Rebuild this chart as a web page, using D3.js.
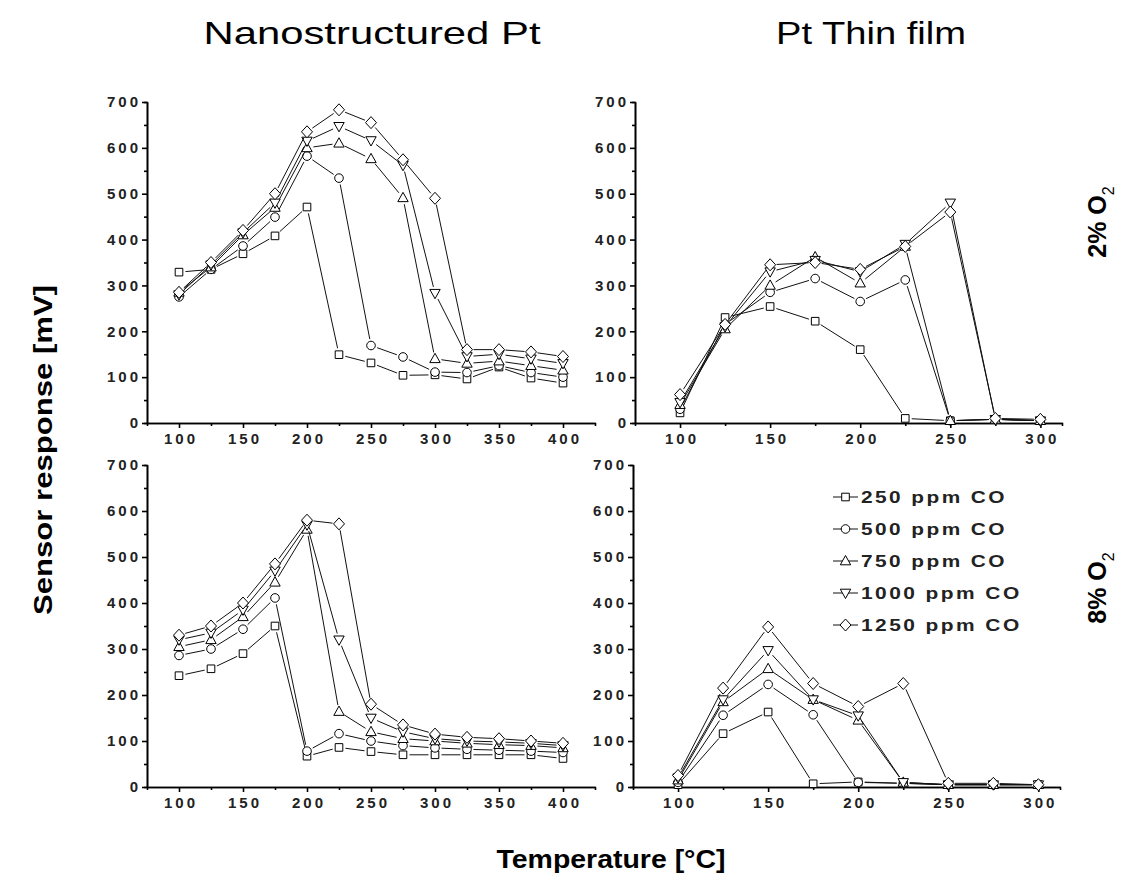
<!DOCTYPE html>
<html>
  <head>
    <script src="https://d3js.org/d3.v7.min.js"></script>
    <style>
      body {margin: 0; background: #fff;}
      svg {font-family: "Liberation Sans", Arial, sans-serif;}
      .axis path, .axis line {stroke: #000; stroke-width: 1.6;}
      .axis text {font-size: 15px; font-weight: bold; letter-spacing: 3px; fill: #222;}
      .series line {stroke: #111; stroke-width: 1;}
      .series path {fill: #fff; stroke: #000; stroke-width: 1;}
    </style>
  </head>
  <body>
    <svg id="chart" width="1128" height="889"></svg>
  </body>
  <script>
      let width = 1128, height = 889;

      // temperatures (°C)
      let tempsNano = [100, 125, 150, 175, 200, 225, 250, 275, 300, 325, 350, 375, 400];
      let tempsFilm = [100, 125, 150, 175, 200, 225, 250, 275, 300];
      let seriesNames = ["250 ppm CO", "500 ppm CO", "750 ppm CO", "1000 ppm CO", "1250 ppm CO"];
      let yTicks = [0, 100, 200, 300, 400, 500, 600, 700];

      // sensor response (mV), one row per CO concentration
      let nano2 = [
          [329, 335, 369, 408, 471, 149, 131, 104, 105, 96, 122, 98, 87],
          [275, 335, 386, 449, 582, 534, 169, 144, 111, 110, 125, 110, 100],
          [285, 340, 410, 470, 600, 610, 576, 491, 140, 130, 135, 125, 115],
          [280, 345, 415, 480, 615, 647, 616, 562, 283, 145, 150, 140, 130],
          [285, 350, 420, 500, 635, 683, 655, 574, 490, 160, 160, 155, 145]
      ];
      let film2 = [
          [22, 230, 254, 222, 160, 10, 5, 8, 5],
          [30, 215, 285, 315, 265, 312, 5, 8, 5],
          [40, 205, 300, 362, 305, 385, 5, 8, 5],
          [45, 210, 330, 355, 330, 390, 480, 8, 5],
          [62, 215, 345, 350, 335, 385, 460, 10, 8]
      ];
      let nano8 = [
          [242, 257, 290, 350, 67, 86, 77, 70, 70, 70, 70, 70, 62],
          [286, 300, 343, 411, 78, 116, 100, 90, 85, 82, 80, 78, 75],
          [305, 320, 370, 445, 560, 164, 120, 105, 100, 95, 92, 90, 85],
          [320, 335, 385, 470, 570, 320, 150, 120, 105, 100, 98, 95, 90],
          [330, 350, 400, 485, 580, 572, 180, 135, 115, 108, 105, 100, 95]
      ];
      let film8 = [
          [5, 116, 163, 7, 11, 8, 5, 5, 5],
          [10, 156, 223, 157, 10, 8, 5, 5, 5],
          [15, 185, 257, 190, 145, 10, 5, 5, 5],
          [20, 190, 297, 190, 155, 10, 5, 5, 5],
          [25, 215, 348, 225, 175, 225, 8, 8, 5]
      ];

      let panels = [
          {temps: tempsNano, data: nano2, xDom: [75, 425], xMajor: [100, 150, 200, 250, 300, 350, 400], x0: 147, x1: 595, y0: 423, y1: 102},
          {temps: tempsFilm, data: film2, xDom: [75, 312], xMajor: [100, 150, 200, 250, 300], x0: 635, x1: 1062, y0: 423, y1: 102},
          {temps: tempsNano, data: nano8, xDom: [75, 425], xMajor: [100, 150, 200, 250, 300, 350, 400], x0: 147, x1: 595, y0: 787, y1: 465},
          {temps: tempsFilm, data: film8, xDom: [75, 312], xMajor: [100, 150, 200, 250, 300], x0: 633, x1: 1060, y0: 787, y1: 465}
      ];

      // marker shapes: square, circle, up triangle, down triangle, diamond
      function marker(i) {
          switch (i) {
              case 0: return "M-3.8,-3.8h7.6v7.6h-7.6Z";
              case 1: return "M4.3,0A4.3,4.3 0 1,1 -4.3,0A4.3,4.3 0 1,1 4.3,0Z";
              case 2: return "M0,-5.5L5.2,3.8L-5.2,3.8Z";
              case 3: return "M0,5.5L5.2,-3.8L-5.2,-3.8Z";
              default: return "M0,-6L5.5,0L0,6L-5.5,0Z";
          }
      }

      let svg = d3.select("#chart");

      function drawPanel(p) {
          let x = d3.scaleLinear().domain(p.xDom).range([p.x0, p.x1]);
          let y = d3.scaleLinear().domain([0, 700]).range([p.y0, p.y1]);
          let g = svg.append("g");

          let minorX = d3.range(125, p.xDom[1], 50);
          let minorY = d3.range(50, 700, 100);

          g.append("g").attr("class", "axis").attr("transform", `translate(0,${p.y0})`)
              .call(d3.axisBottom(x).tickValues(minorX).tickSize(3).tickFormat(""));
          g.append("g").attr("class", "axis").attr("transform", `translate(0,${p.y0})`)
              .call(d3.axisBottom(x).tickValues(p.xMajor).tickSize(5).tickSizeOuter(0).tickPadding(5))
              .selectAll("text").attr("dx", "1.5px");
          g.append("g").attr("class", "axis").attr("transform", `translate(${p.x0},0)`)
              .call(d3.axisLeft(y).tickValues(minorY).tickSize(3).tickFormat(""));
          g.append("g").attr("class", "axis").attr("transform", `translate(${p.x0},0)`)
              .call(d3.axisLeft(y).tickValues(yTicks).tickSize(5).tickSizeOuter(0).tickPadding(4))
              .selectAll("text").attr("dx", "3px");

          p.data.forEach((vals, si) => {
              let pts = vals.map((v, i) => [x(p.temps[i]), y(v)]);
              let sg = g.append("g").attr("class", "series");
              let segs = d3.pairs(pts).map(([a, b]) => {
                  let dx = b[0] - a[0], dy = b[1] - a[1], len = Math.hypot(dx, dy), gap = 6.5;
                  if (len <= 2 * gap) return null;
                  let ux = dx / len, uy = dy / len;
                  return [a[0] + ux * gap, a[1] + uy * gap, b[0] - ux * gap, b[1] - uy * gap];
              }).filter(s => s);
              sg.selectAll("line").data(segs).enter().append("line")
                  .attr("x1", d => d[0]).attr("y1", d => d[1]).attr("x2", d => d[2]).attr("y2", d => d[3]);
              sg.selectAll("path").data(pts).enter().append("path")
                  .attr("transform", d => `translate(${d[0]},${d[1]})`).attr("d", marker(si));
          });
      }

      panels.forEach(drawPanel);

      // legend
      let legend = svg.append("g").attr("transform", "translate(833,497)");
      seriesNames.forEach((name, i) => {
          let row = legend.append("g").attr("class", "series").attr("transform", `translate(0,${i * 32})`);
          row.append("line").attr("x1", 0).attr("x2", 25).attr("y1", 0).attr("y2", 0);
          row.append("path").attr("transform", "translate(12.5,0)").attr("d", marker(i));
          row.append("text").attr("x", 28).attr("y", 6).text(name)
              .attr("textLength", name.length * 14.6).attr("lengthAdjust", "spacingAndGlyphs")
              .style("font-size", "17px").style("font-weight", "bold").style("letter-spacing", "2px").style("fill", "#222");
      });

      // titles and labels
      svg.append("text").attr("x", 372).attr("y", 44).attr("text-anchor", "middle")
          .attr("textLength", 337).attr("lengthAdjust", "spacingAndGlyphs")
          .style("font-size", "32px").text("Nanostructured Pt");
      svg.append("text").attr("x", 871).attr("y", 44).attr("text-anchor", "middle")
          .attr("textLength", 190).attr("lengthAdjust", "spacingAndGlyphs")
          .style("font-size", "32px").text("Pt Thin film");
      svg.append("text").attr("transform", "translate(52,450) rotate(-90)").attr("text-anchor", "middle")
          .attr("textLength", 330).attr("lengthAdjust", "spacingAndGlyphs")
          .style("font-size", "26px").style("font-weight", "bold").text("Sensor response [mV]");
      svg.append("text").attr("x", 611).attr("y", 868).attr("text-anchor", "middle")
          .attr("textLength", 229).attr("lengthAdjust", "spacingAndGlyphs")
          .style("font-size", "25px").style("font-weight", "bold").text("Temperature [°C]");

      [["2%", 222], ["8%", 588]].forEach(([pc, cy]) => {
          let t = svg.append("text").attr("transform", `translate(1106,${cy}) rotate(-90)`).attr("text-anchor", "middle")
              .style("font-size", "25px").style("font-weight", "bold");
          t.append("tspan").text(pc + " O");
          t.append("tspan").attr("dy", 8).style("font-size", "16px").style("font-weight", "normal").text("2");
      });
  </script>
</html>
